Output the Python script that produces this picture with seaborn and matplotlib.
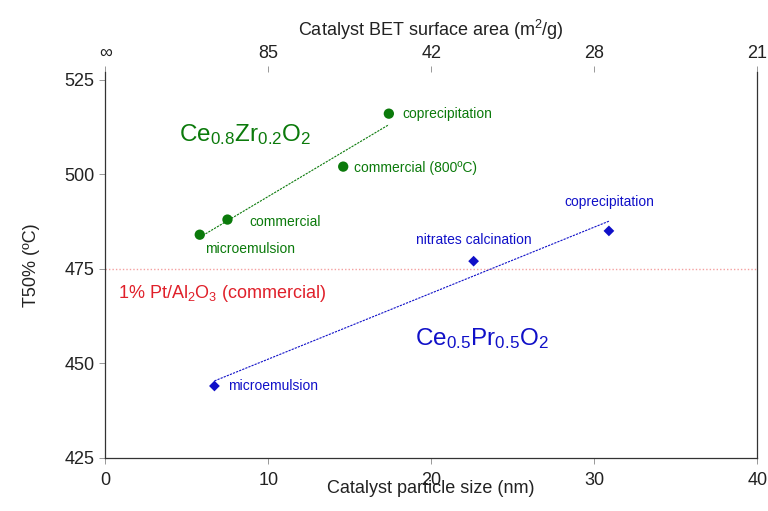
import numpy as np
import pandas as pd
import matplotlib
matplotlib.use("Agg")
import matplotlib.pyplot as plt
import seaborn as sns

# Data
czr_size = [5.8, 7.5, 14.6, 17.4]
czr_t50 = [484, 488, 502, 516]
czr_labels = ["microemulsion", "commercial", "commercial (800ºC)", "coprecipitation"]

cpr_size = [6.7, 22.6, 30.9]
cpr_t50 = [444, 477, 485]
cpr_labels = ["microemulsion", "nitrates calcination", "coprecipitation"]

ref_t50 = 475
top_ticks = [0, 10, 20, 30, 40]
top_labels = ["∞", "85", "42", "28", "21"]

sns.set_theme(style="ticks")
plt.rcParams['font.family'] = ['Liberation Sans', 'DejaVu Sans']
plt.rcParams['mathtext.fontset'] = 'custom'
plt.rcParams['mathtext.rm'] = 'Liberation Sans'
plt.rcParams['mathtext.it'] = 'Liberation Sans:italic'
plt.rcParams['mathtext.bf'] = 'Liberation Sans:bold'

GREEN = "#0b7a0b"
BLUE = "#1010c8"
RED = "#e0202a"
TXT = "#222222"

fig = plt.figure(figsize=(7.68, 5.11), dpi=100)
ax = fig.add_axes([0.137, 0.104, 0.849, 0.755])

df1 = pd.DataFrame({"size": czr_size, "t50": czr_t50})
df2 = pd.DataFrame({"size": cpr_size, "t50": cpr_t50})

ax.axhline(ref_t50, color="#f4a0a0", lw=1.0, ls=(0, (1, 1.5)), zorder=1)

sns.regplot(data=df1, x="size", y="t50", scatter=False, ci=None, ax=ax,
            line_kws=dict(color=GREEN, lw=0.8, ls=(0, (2, 1))))
sns.regplot(data=df2, x="size", y="t50", scatter=False, ci=None, ax=ax,
            line_kws=dict(color=BLUE, lw=0.8, ls=(0, (2, 1))))
sns.scatterplot(data=df1, x="size", y="t50", ax=ax, color=GREEN, marker="o",
                s=55, edgecolor="none", zorder=3)
sns.scatterplot(data=df2, x="size", y="t50", ax=ax, color=BLUE, marker="D",
                s=30, edgecolor="none", zorder=3)

# point annotations
fs = 10
ax.annotate(czr_labels[0], (czr_size[0], czr_t50[0]), xytext=(4, -10),
            textcoords="offset points", color=GREEN, fontsize=fs, va="center")
ax.annotate(czr_labels[1], (czr_size[1], czr_t50[1]), xytext=(16, -2),
            textcoords="offset points", color=GREEN, fontsize=fs, va="center")
ax.annotate(czr_labels[2], (czr_size[2], czr_t50[2]), xytext=(8, -1),
            textcoords="offset points", color=GREEN, fontsize=fs, va="center")
ax.annotate(czr_labels[3], (czr_size[3], czr_t50[3]), xytext=(10, 0),
            textcoords="offset points", color=GREEN, fontsize=fs, va="center")

ax.annotate(cpr_labels[0], (cpr_size[0], cpr_t50[0]), xytext=(10, 0),
            textcoords="offset points", color=BLUE, fontsize=fs, va="center")
ax.annotate(cpr_labels[1], (cpr_size[1], cpr_t50[1]), xytext=(0, 15),
            textcoords="offset points", color=BLUE, fontsize=fs, va="center", ha="center")
ax.annotate(cpr_labels[2], (cpr_size[2], cpr_t50[2]), xytext=(0, 21),
            textcoords="offset points", color=BLUE, fontsize=fs, va="center", ha="center")

ax.text(4.5, 510.5, r"Ce$_{0.8}$Zr$_{0.2}$O$_2$", color=GREEN, fontsize=17.5, va="center")
ax.text(19.0, 456.5, r"Ce$_{0.5}$Pr$_{0.5}$O$_2$", color=BLUE, fontsize=17.5, va="center")
ax.text(0.8, 468.5, r"1% Pt/Al$_2$O$_3$ (commercial)", color=RED, fontsize=13, va="center")

ax.set_xlim(0, 40)
ax.set_ylim(425, 527)
ax.set_xticks([0, 10, 20, 30, 40])
ax.set_yticks([425, 450, 475, 500, 525])
ax.tick_params(labelsize=13, length=4, width=0.6, color="#888888", labelcolor=TXT)
ax.tick_params(axis="x", pad=6)
ax.set_xlabel("Catalyst particle size (nm)", fontsize=13, labelpad=-6, color=TXT)
ax.set_ylabel("T50% (ºC)", fontsize=13, labelpad=18, color=TXT)

for s in ["left", "bottom", "right"]:
    ax.spines[s].set_color("#333333")
    ax.spines[s].set_linewidth(0.9)
ax.spines["top"].set_visible(False)

top = ax.secondary_xaxis("top")
top.set_xticks(top_ticks)
top.set_xticklabels(top_labels)
top.tick_params(labelsize=13, length=4, width=0.6, color="#888888", labelcolor=TXT)
top.spines["top"].set_visible(False)
top.set_xlabel("Catalyst BET surface area (m$^2$/g)", fontsize=13, labelpad=6, color=TXT)

fig.savefig("out.png", dpi=100)
